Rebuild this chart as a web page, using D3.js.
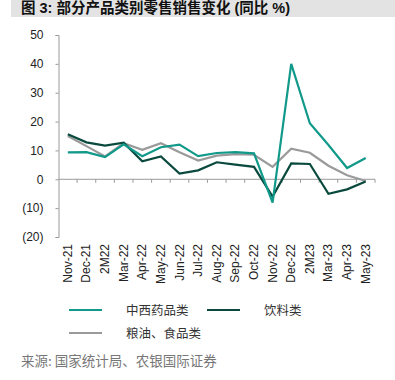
<!DOCTYPE html>
<html><head><meta charset="utf-8">
<script src="https://cdn.jsdelivr.net/npm/d3@7"></script>
<style>body{margin:0;background:#fff}svg{display:block}</style>
</head><body>
<script>
const categories = ["Nov-21","Dec-21","2M22","Mar-22","Apr-22","May-22","Jun-22","Jul-22","Aug-22","Sep-22","Oct-22","Nov-22","Dec-22","2M23","Mar-23","Apr-23","May-23"];
const medicine = [9.3,9.4,7.7,12.1,8.0,11.1,12.0,8.0,9.1,9.4,9.0,-8.1,40.0,19.4,11.9,3.9,7.4];
const beverage = [15.6,12.8,11.7,12.7,6.2,7.9,2.0,3.1,5.9,5.1,4.3,-6.0,5.5,5.3,-5.0,-3.5,-0.8];
const grainFood = [15.0,11.5,7.9,12.5,10.2,12.5,9.4,6.5,8.2,8.7,8.5,4.3,10.6,9.2,4.7,1.4,-0.6];
const yTicks = [50,40,30,20,10,0,-10,-20];
const seriesNames = ["中西药品类","饮料类","粮油、食品类"];
const colors = ["#11998a","#0a4a3e","#9a9a9a"];

const W=395,H=380;
const svg=d3.select("body").append("svg").attr("width",W).attr("height",H);

// title bar
svg.append("rect").attr("x",11).attr("y",0).attr("width",W-11).attr("height",17).attr("fill","#e3e3e3");
svg.append("text").attr("x",21).attr("y",13).attr("font-family","Liberation Sans, Arial, Noto Sans CJK SC").attr("font-weight","bold").attr("font-size",14.5).attr("fill","#111").text("图 3: 部分产品类别零售销售变化 (同比 %)");

const x=d3.scaleBand().domain(categories).range([58.5,375]);
const y=d3.scaleLinear().domain([-20,50]).range([237,35]);

// y axis
const yAxis=svg.append("g").attr("transform","translate(58.5,0)").call(d3.axisLeft(y).tickValues(yTicks).tickSize(3).tickFormat(d=>d<0?`(${-d})`:d));
yAxis.select(".domain").attr("stroke","#999");
yAxis.selectAll(".tick line").attr("stroke","#999");
yAxis.selectAll("text").attr("font-family","Liberation Sans, Arial").attr("font-size",12).attr("fill","#222").attr("x",-15);

// x axis at zero
const xAxis=svg.append("g").attr("transform",`translate(0,${y(0)})`);
xAxis.append("line").attr("x1",58.5).attr("x2",375).attr("stroke","#999").attr("stroke-width",1);
const bounds=categories.map(c=>x(c)+x.bandwidth());
xAxis.selectAll(".tk").data(bounds).join("line").attr("x1",d=>d).attr("x2",d=>d).attr("y1",0).attr("y2",3.5).attr("stroke","#999");

// x labels
svg.append("g").selectAll("text").data(categories).join("text")
 .attr("transform",d=>`translate(${x(d)+x.bandwidth()/2+4},244) rotate(-90)`)
 .attr("text-anchor","end").attr("font-family","Liberation Sans, Arial").attr("font-size",12).attr("fill","#222").text(d=>d);

const line=d3.line().x((d,i)=>x(categories[i])+x.bandwidth()/2).y(d=>y(d));
[[grainFood,2],[beverage,1],[medicine,0]].forEach(([s,idx])=>{
  svg.append("path").datum(s).attr("d",line).attr("fill","none").attr("stroke",colors[idx]).attr("stroke-width",2.2).attr("stroke-linejoin","miter");
});

// legend
const leg=[{x:69,y:310,i:0,tx:126},{x:207,y:310,i:1,tx:264},{x:69,y:333,i:2,tx:126}];
leg.forEach(l=>{
  svg.append("line").attr("x1",l.x).attr("x2",l.x+33).attr("y1",l.y).attr("y2",l.y).attr("stroke",colors[l.i]).attr("stroke-width",2.2);
  svg.append("text").attr("x",l.tx).attr("y",l.y+4.5).attr("font-family","Noto Sans CJK SC").attr("font-size",12.5).attr("fill","#333").text(seriesNames[l.i]);
});

svg.append("text").attr("x",21).attr("y",366).attr("font-family","Noto Sans CJK SC").attr("font-size",13.5).attr("fill","#777").text("来源: 国家统计局、农银国际证券");
</script>
</body></html>
